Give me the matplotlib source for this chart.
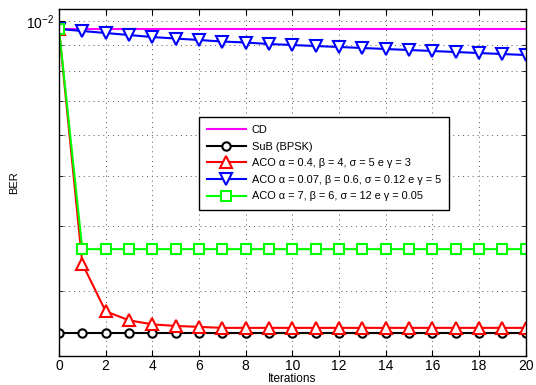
import numpy as np
import matplotlib
matplotlib.use('Agg')
import matplotlib.pyplot as plt
from matplotlib.ticker import LogLocator, NullFormatter, FixedLocator

plt.rcParams['font.family'] = ['Liberation Sans', 'DejaVu Sans']
plt.rcParams['mathtext.fontset'] = 'custom'
plt.rcParams['mathtext.rm'] = 'Liberation Sans'

# data
iterations = np.arange(0, 21)
ber_cd = [9.65e-3] * 21
ber_sub = [2.48e-3] * 21
ber_aco1 = [9.65e-3, 3.385e-3, 2.735e-3, 2.627e-3, 2.58e-3, 2.562e-3, 2.551e-3] + [2.54e-3] * 14
ber_aco2 = [9.649e-3, 9.563e-3, 9.478e-3, 9.393e-3, 9.309e-3, 9.247e-3, 9.186e-3,
            9.124e-3, 9.084e-3, 9.023e-3, 8.983e-3, 8.943e-3, 8.903e-3, 8.864e-3,
            8.824e-3, 8.785e-3, 8.746e-3, 8.706e-3, 8.667e-3, 8.628e-3, 8.59e-3]
ber_aco3 = [9.65e-3] + [3.61e-3] * 20

labels = ['CD', 'SuB (BPSK)',
          'ACO α = 0.4, β = 4, σ = 5 e γ = 3',
          'ACO α = 0.07, β = 0.6, σ = 0.12 e γ = 5',
          'ACO α = 7, β = 6, σ = 12 e γ = 0.05']

fig = plt.figure(figsize=(5.36, 3.85), dpi=100)
ax = fig.add_axes([0.110, 0.0753, 0.871, 0.9013])

lw = 1.5
ax.plot(iterations, ber_cd, color='#ff00ff', lw=lw, label=labels[0])
ax.plot(iterations, ber_sub, color='black', lw=lw, marker='o', ms=6,
        mfc='white', mew=1.5, label=labels[1])
ax.plot(iterations, ber_aco1, color='red', lw=lw, marker='^', ms=8.5,
        mfc='white', mew=1.5, label=labels[2])
ax.plot(iterations, ber_aco2, color='blue', lw=lw, marker='v', ms=8.5,
        mfc='white', mew=1.5, label=labels[3])
ax.plot(iterations, ber_aco3, color='#00ff00', lw=lw, marker='s', ms=6.5,
        mfc='white', mew=1.5, label=labels[4])

ax.set_yscale('log')
ax.set_xlim(0, 20)
ax.set_ylim(2.24e-3, 1.055e-2)
ax.set_xticks(np.arange(0, 21, 2))
ax.yaxis.set_major_locator(FixedLocator([1e-2]))
ax.yaxis.set_minor_locator(LogLocator(base=10, subs=np.arange(2, 10), numticks=20))
ax.yaxis.set_minor_formatter(NullFormatter())
ax.set_yticklabels([r'$10^{-2}$'])

ax.grid(True, which='major', axis='x', linestyle=(0, (1, 4)), color='#555555', lw=0.7)
ax.grid(True, which='both', axis='y', linestyle=(0, (1, 4)), color='#555555', lw=0.7)
ax.tick_params(which='both', direction='in', top=True, right=True, labelsize=10)
ax.tick_params(which='major', length=4)
ax.tick_params(which='minor', length=3)
ax.tick_params(axis='x', pad=2.5)
for s in ax.spines.values():
    s.set_linewidth(1.0)

ax.set_xlabel('Iterations', fontsize=8.5, labelpad=0)
ax.set_ylabel('BER', fontsize=8, labelpad=5)

leg = ax.legend(loc='upper left', bbox_to_anchor=(0.30, 0.689), fontsize=7.9,
                handlelength=3.5, borderpad=0.75, labelspacing=0.6,
                handletextpad=0.55, fancybox=False, framealpha=1,
                edgecolor='black', borderaxespad=0)
leg.get_frame().set_linewidth(1.0)

fig.savefig('out.png', dpi=100)
